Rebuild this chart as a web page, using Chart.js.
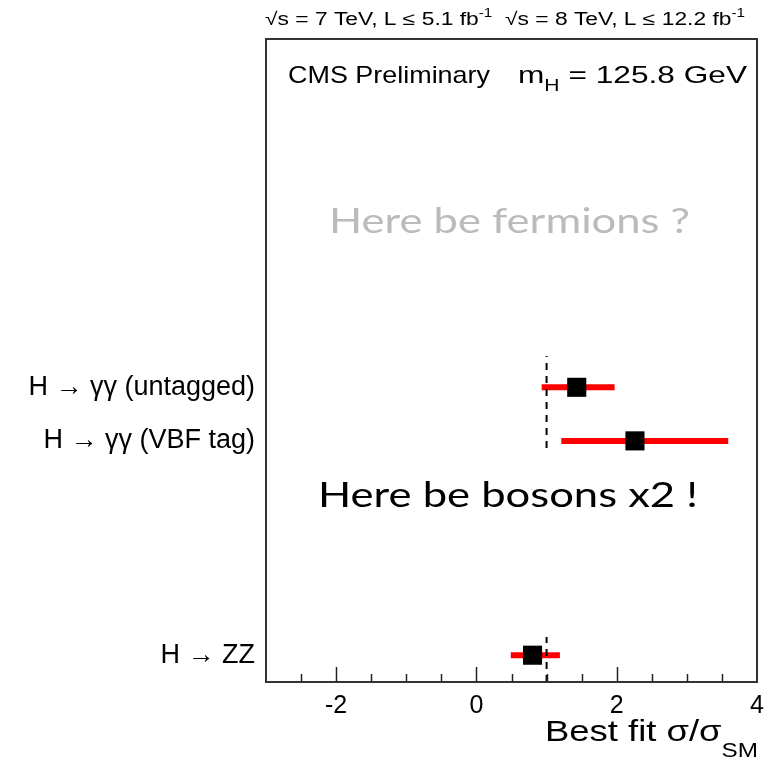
<!DOCTYPE html>
<html>
<head>
<meta charset="utf-8">
<script src="https://cdn.jsdelivr.net/npm/chart.js@4/dist/chart.umd.min.js"></script>
<style>
  html, body { margin: 0; padding: 0; background: #fff; }
  #wrap { width: 778px; height: 760px; position: relative; }
</style>
</head>
<body>
<div id="wrap"><canvas id="c" width="778" height="760"></canvas></div>
<script>
// Channels and their best-fit signal strengths with 1-sigma intervals
const channels = ['H \u2192 \u03b3\u03b3 (untagged)', 'H \u2192 \u03b3\u03b3 (VBF tag)', 'H \u2192 ZZ'];
const channelRows = [5.5, 4.5, 0.5];
const bestFit = [1.43, 2.26, 0.80];
const errLow = [0.93, 1.21, 0.49];
const errHigh = [1.97, 3.59, 1.19];
const xMajorTicks = [-2, 0, 2, 4];
const smValue = 1;

const SANS = '"Liberation Sans", Arial, Helvetica, sans-serif';
const ROUND = 'Lato, "Open Sans", sans-serif';

const markerSet = {
  type: 'scatter',
  data: bestFit.map((v, i) => ({ x: v, y: channelRows[i] })),
  pointStyle: 'rect',
  pointRadius: 13.5,
  pointHoverRadius: 13.5,
  backgroundColor: '#000',
  borderWidth: 0
};

const smLine = {
  type: 'line',
  data: [{ x: smValue, y: 0 }, { x: smValue, y: 12 }],
  borderColor: '#000',
  borderWidth: 2,
  borderDash: [7, 6],
  pointRadius: 0,
  showLine: true
};

const errorBars = channels.map((name, i) => ({
  type: 'line',
  data: [{ x: errLow[i], y: channelRows[i] }, { x: errHigh[i], y: channelRows[i] }],
  borderColor: '#ff0000',
  borderWidth: 6,
  borderCapStyle: 'butt',
  pointRadius: 0,
  showLine: true
}));

function runsWidth(ctx, runs) {
  let w = 0;
  for (const r of runs) { ctx.font = r.font; w += ctx.measureText(r.t).width; }
  return w;
}
// Draws a row of text runs starting at x on baseline y, stretched to the given width.
function drawRuns(ctx, runs, x, y, width) {
  const natural = runsWidth(ctx, runs);
  const sx = width ? width / natural : 1;
  ctx.save();
  ctx.translate(x, y);
  ctx.scale(sx, 1);
  ctx.textAlign = 'left';
  ctx.textBaseline = 'alphabetic';
  let cx = 0;
  for (const r of runs) {
    ctx.font = r.font;
    ctx.fillText(r.t, cx, r.dy || 0);
    cx += ctx.measureText(r.t).width;
  }
  ctx.restore();
}

const decorations = {
  id: 'decorations',
  afterDatasetsDraw(chart) {
    const { ctx, chartArea: a } = chart;
    ctx.save();
    // white text panels laid over the plot area
    ctx.fillStyle = '#fff';
    ctx.fillRect(a.left + 1, a.top + 1, a.right - a.left - 2, 96 - a.top);
    ctx.fillRect(a.left + 1, 101, a.right - a.left - 2, 255);
    ctx.fillRect(a.left + 1, 453, a.right - a.left - 2, 184);

    ctx.fillStyle = '#000';
    drawRuns(ctx, [{ t: 'CMS Preliminary', font: '24px ' + SANS }], 288, 83, 202);
    drawRuns(ctx, [
      { t: 'm', font: '24px ' + SANS },
      { t: 'H', font: '16px ' + SANS, dy: 8 },
      { t: ' = 125.8 GeV', font: '24px ' + SANS }
    ], 518, 83, 229);

    ctx.fillStyle = '#bbbbbb';
    drawRuns(ctx, [{ t: 'Here be fermions ?', font: '34px ' + ROUND }], 329, 233, 361);
    ctx.fillStyle = '#000';
    drawRuns(ctx, [{ t: 'Here be bosons x2 !', font: '34px ' + ROUND }], 318, 507, 380);
    ctx.restore();
  },
  afterDraw(chart) {
    const { ctx, chartArea: a, scales } = chart;
    const xs = scales.x;
    ctx.save();
    // frame
    ctx.strokeStyle = '#333';
    ctx.lineWidth = 2;
    ctx.strokeRect(a.left, a.top, a.right - a.left, a.bottom - a.top);
    // inward ticks along the bottom axis
    ctx.lineWidth = 1.5;
    ctx.strokeStyle = '#222';
    for (const t of xs.ticks) {
      const px = Math.round(xs.getPixelForValue(t.value)) + 0.5;
      if (px <= a.left + 1 || px >= a.right - 1) continue;
      const len = xMajorTicks.includes(t.value) ? 15 : 8;
      ctx.beginPath();
      ctx.moveTo(px, a.bottom);
      ctx.lineTo(px, a.bottom - len);
      ctx.stroke();
    }

    ctx.fillStyle = '#000';
    // header
    const main = '18px ' + SANS;
    const sup = { font: '12px ' + SANS, dy: -8 };
    drawRuns(ctx, [
      { t: '\u221As = 7 TeV, L \u2264 5.1 fb', font: main },
      { t: '-1', ...sup },
      { t: '  \u221As = 8 TeV, L \u2264 12.2 fb', font: main },
      { t: '-1', ...sup }
    ], 265, 25, 480);

    // axis title
    drawRuns(ctx, [
      { t: 'Best fit \u03c3/\u03c3', font: '30px ' + SANS },
      { t: 'SM', font: '20px ' + SANS, dy: 16 }
    ], 545, 741, 213);
    ctx.restore();
  }
};

new Chart(document.getElementById('c'), {
  data: { datasets: [markerSet, smLine, ...errorBars] },
  plugins: [decorations],
  options: {
    responsive: false,
    animation: false,
    events: [],
    layout: { padding: { top: 39, right: 21, left: 0, bottom: 0 } },
    plugins: { legend: { display: false }, tooltip: { enabled: false }, title: { display: false } },
    scales: {
      x: {
        type: 'linear',
        min: -3,
        max: 4,
        afterFit(scale) { scale.height = 78; },
        grid: { display: false, drawTicks: false },
        border: { display: false },
        ticks: {
          stepSize: 0.5,
          autoSkip: false,
          maxRotation: 0,
          padding: 9,
          color: '#000',
          font: { family: SANS, size: 25 },
          callback: v => xMajorTicks.includes(v) ? String(v) : ''
        }
      },
      y: {
        type: 'linear',
        min: 0,
        max: 12,
        afterFit(scale) { scale.width = 266; },
        afterBuildTicks(scale) { scale.ticks = channelRows.map(v => ({ value: v })); },
        grid: { display: false, drawTicks: false },
        border: { display: false },
        ticks: {
          autoSkip: false,
          padding: 11,
          color: '#000',
          font: { family: SANS, size: 27 },
          callback: v => channels[channelRows.indexOf(v)]
        }
      }
    }
  }
});
</script>
</body>
</html>
